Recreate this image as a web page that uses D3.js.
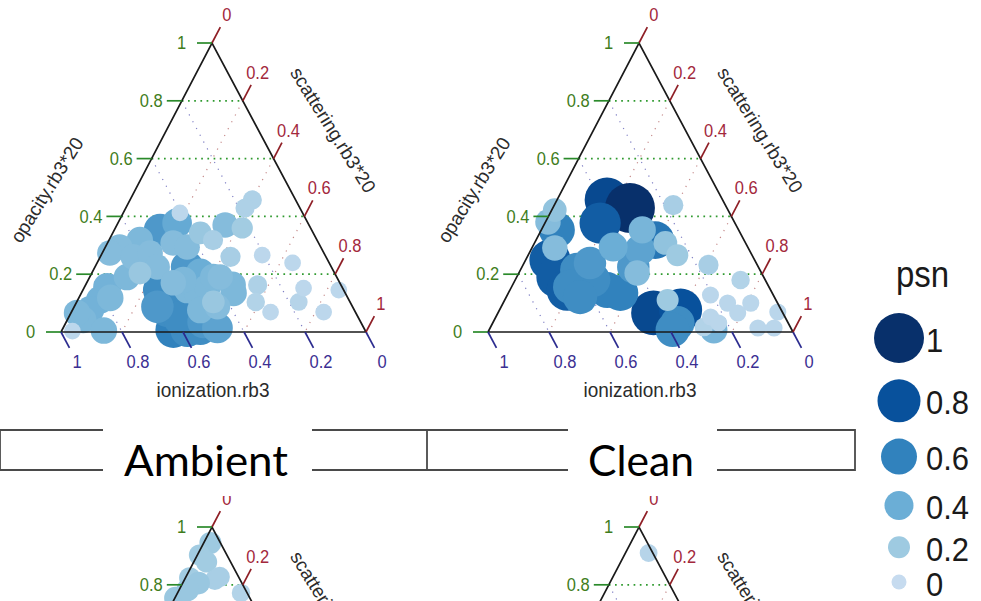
<!DOCTYPE html>
<html><head><meta charset="utf-8">
<script src="https://cdn.jsdelivr.net/npm/d3@7/dist/d3.min.js"></script>
<style>body{margin:0;background:#fff}svg{display:block}</style>
</head><body>
<svg id="chart" width="981" height="601"></svg>
<script>
// ---------- data ----------
const tickValues = [0, 0.2, 0.4, 0.6, 0.8, 1];
const tickLabels = ["0", "0.2", "0.4", "0.6", "0.8", "1"];
const gridValues = [0.2, 0.4, 0.6, 0.8];
const titleOpacity = "opacity.rb3*20";
const titleScattering = "scattering.rb3*20";
const titleIonization = "ionization.rb3";
const panelNames = ["Ambient", "Clean"];
const legendTitle = "psn";
const legendValues = [1, 0.8, 0.6, 0.4, 0.2, 0];
const legendLabels = ["1", "0.8", "0.6", "0.4", "0.2", "0"];

// Ambient (top row)
const ambientOpacity = [.007,.145,.076,.007,.014,.048,.353,.225,.087,.035,.014,.377,.204,.156,.111,.076,.163,.318,.190,.042,.066,.005,.118,.145,.135,.156,.180,.190,.135,.076,.370,.190,.294,.273,.260,.273,.308,.294,.225,.170,.087,.104,.343,.204,.360,.260,.318,.457,.429,.163,.104,.104,.266,.239,.145,.152,.069,.069,.412,.003];
const ambientScattering = [.365,.253,.311,.411,.450,.367,.150,.302,.273,.450,.506,.194,.356,.074,.073,.058,.482,.101,.122,.052,.020,.138,.103,.342,.380,.403,.312,.405,.499,.419,.355,.428,.047,.025,.108,.157,.215,.268,.204,.284,.470,.448,.287,.158,.416,.427,.341,.401,.391,.564,.587,.728,.528,.641,.839,.720,.827,.653,.186,.036];
const ambientIonization = [.628,.602,.613,.582,.536,.585,.497,.473,.640,.515,.480,.429,.440,.770,.816,.866,.355,.581,.688,.906,.914,.857,.779,.513,.485,.441,.508,.405,.366,.505,.275,.382,.659,.702,.632,.570,.477,.438,.571,.546,.443,.448,.370,.638,.224,.313,.341,.142,.180,.273,.309,.168,.206,.120,.016,.128,.104,.278,.402,.961];
const ambientPsn = [.6,.55,.55,.55,.55,.55,.5,.5,.5,.5,.45,.42,.4,.37,.37,.37,.33,.33,.33,.33,.33,.33,.33,.33,.33,.33,.33,.33,.33,.33,.3,.3,.3,.3,.3,.3,.3,.3,.3,.3,.3,.22,.22,.22,.18,.15,.15,.12,.12,.12,.1,.08,.05,.05,.05,.05,.05,.05,.05,.05];

// Clean (top row)
const cleanOpacity = [.457,.429,.066,.076,.377,.249,.190,.145,.318,.145,.135,.353,.215,.180,.156,.121,.031,.007,.225,.239,.284,.294,.353,.007,.204,.381,.291,.308,.422,.111,.266,.439,.232,.180,.017,.128,.100,.100,.052,.066,.069,.014,.014,.031];
const cleanScattering = [.164,.253,.510,.594,.181,.080,.132,.188,.391,.319,.367,.051,.186,.256,.192,.242,.606,.602,.365,.216,.358,.265,.331,.737,.388,.008,.075,.429,.010,.534,.489,.390,.608,.739,.699,.666,.736,.812,.704,.786,.916,.878,.931,.741];
const cleanIonization = [.379,.318,.424,.330,.442,.671,.678,.667,.291,.536,.498,.596,.599,.564,.652,.637,.363,.391,.410,.545,.358,.441,.316,.256,.408,.611,.634,.263,.568,.355,.245,.171,.160,.081,.284,.206,.164,.088,.244,.148,.015,.108,.055,.228];
const cleanPsn = [.85,1,.85,.8,.75,.75,.75,.75,.65,.6,.6,.6,.55,.55,.55,.55,.55,.55,.5,.5,.45,.4,.35,.35,.3,.3,.3,.25,.25,.2,.2,.15,.15,.1,.1,.06,.06,.06,.06,.06,.06,.06,.06,.06];

// second row (partly visible)
const ambient2Opacity = [.945,.903,.879,.824,.817,.827,.806,.754,.772,.782,.696,.70];
const ambient2Scattering = [.022,.007,.042,.014,.100,.111,.052,.002,.208,.028,.012,.06];
const ambient2Ionization = [.033,.090,.079,.162,.083,.062,.142,.244,.020,.190,.292,.24];
const ambient2Psn = [.2,.18,.18,.18,.15,.15,.22,.22,.1,.22,.22,.18];
const clean2Opacity = [.910];
const clean2Scattering = [.076];
const clean2Ionization = [.014];
const clean2Psn = [.08];

// ---------- scales ----------
const color = d3.scaleLinear()
  .domain([0, .2, .4, .6, .8, 1])
  .range(["#c6dbef", "#9ecae1", "#6baed6", "#3182bd", "#08519c", "#08306b"]);
const rScale = d3.scaleLinear().domain([0, 1]).range([7.5, 25]);

const W = 305, H = 289, TX = 151;
const FONT = "'Liberation Sans', Arial, sans-serif";
const VIEW_H = 601;
const svg = d3.select("#chart");
svg.append("rect").attr("width", 981).attr("height", 601).attr("fill", "#fff");

svg.append("defs").append("clipPath").attr("id", "row2")
  .append("rect").attr("x", 0).attr("y", 496).attr("width", 981).attr("height", 110);

function zip(op, sc, ion, psn) {
  return op.map((d, i) => ({op: d, sc: sc[i], ion: ion[i], psn: psn[i]}));
}

function drawPanel(root, ox, oy, data) {
  const g = root.append("g");
  const xs = d3.scaleLinear().domain([0, 1]).range([0, W]);
  const xo = d3.scaleLinear().domain([0, 1]).range([0, TX]);
  const ys = d3.scaleLinear().domain([0, 1]).range([oy, oy - H]);
  const proj = (op, sc, ion) => {
    const s = op + sc + ion;
    op /= s; sc /= s;
    return [ox + xs(sc) + xo(op), ys(op)];
  };
  const BL = proj(0, 0, 1), BR = proj(0, 1, 0), T = proj(1, 0, 0);
  const line = (a, b) => `M${a[0]},${a[1]}L${b[0]},${b[1]}`;

  // grid
  gridValues.forEach(v => {
    g.append("path").attr("d", line(proj(1 - v, v, 0), proj(0, v, 1 - v)))
      .attr("stroke", "#c58a8a").attr("stroke-width", 1.2).attr("stroke-dasharray", "1.2 6.5").attr("fill", "none");
    g.append("path").attr("d", line(proj(1 - v, 0, v), proj(0, 1 - v, v)))
      .attr("stroke", "#7f7fc4").attr("stroke-width", 1.2).attr("stroke-dasharray", "1.2 6.5").attr("fill", "none");
    g.append("path").attr("d", line(proj(v, 0, 1 - v), proj(v, 1 - v, 0)))
      .attr("stroke", "#2f9a2f").attr("stroke-width", 1.7).attr("stroke-dasharray", "1.7 4.5").attr("fill", "none");
  });

  // points
  g.append("g").selectAll("circle").data(data).join("circle")
    .attr("cx", d => proj(d.op, d.sc, d.ion)[0])
    .attr("cy", d => proj(d.op, d.sc, d.ion)[1])
    .attr("r", d => rScale(d.psn))
    .attr("fill", d => color(d.psn));

  // triangle
  g.append("path").attr("d", `M${BL}L${BR}L${T}Z`)
    .attr("fill", "none").attr("stroke", "#1a1a1a").attr("stroke-width", 1.7);

  const lenL = Math.hypot(T[0] - BL[0], T[1] - BL[1]);
  const dirL = [(T[0] - BL[0]) / lenL, (T[1] - BL[1]) / lenL];
  const lenR = Math.hypot(BR[0] - T[0], BR[1] - T[1]);
  const dirR = [(BR[0] - T[0]) / lenR, (BR[1] - T[1]) / lenR];

  const label = (x, y, txt, fill) => {
    if (y - 9 > VIEW_H) return;
    g.append("text")
      .attr("transform", `translate(${x},${y}) scale(1,1.1)`)
      .attr("text-anchor", "middle").attr("dominant-baseline", "central")
      .attr("font-family", FONT).attr("font-size", 16.5).attr("fill", fill).text(txt);
  };

  tickValues.forEach((v, i) => {
    const p = proj(v, 0, 1 - v);
    g.append("path").attr("d", line([p[0] - 15, p[1]], p)).attr("stroke", "#2a8a2a").attr("stroke-width", 1.7);
    label(p[0] - 30.5, p[1], tickLabels[i], "#3f7d1c");
    const q = proj(1 - v, v, 0);
    g.append("path").attr("d", line(q, [q[0] + dirL[0] * 18, q[1] + dirL[1] * 18])).attr("stroke", "#8f1f26").attr("stroke-width", 1.7);
    label(q[0] + dirL[0] * 32, q[1] + dirL[1] * 32, tickLabels[i], "#a3283c");
    const b = proj(0, 1 - v, v);
    g.append("path").attr("d", line(b, [b[0] + dirR[0] * 18, b[1] + dirR[1] * 18])).attr("stroke", "#2b2b8f").attr("stroke-width", 1.7);
    label(b[0] + dirR[0] * 34, b[1] + dirR[1] * 34, tickLabels[i], "#3b2f92");
  });

  // titles
  if (oy + 50 < VIEW_H)
    g.append("text").attr("transform", `translate(${ox + 152},${oy + 65}) scale(1,1.1)`)
      .attr("text-anchor", "middle").attr("font-family", FONT).attr("font-size", 19).attr("fill", "#2b2b2b").text(titleIonization);
  if (oy - 142 - 60 < VIEW_H)
    g.append("text").attr("transform", `translate(${ox - 14},${oy - 142}) rotate(-58)`)
      .attr("text-anchor", "middle").attr("dominant-baseline", "central")
      .attr("font-family", FONT).attr("font-size", 19).attr("fill", "#2b2b2b").text(titleOpacity);
  g.append("text").attr("transform", `translate(${ox + 272},${oy - 202}) rotate(58)`)
    .attr("text-anchor", "middle").attr("dominant-baseline", "central")
    .attr("font-family", FONT).attr("font-size", 19).attr("fill", "#2b2b2b").text(titleScattering);
}

drawPanel(svg, 61, 332, zip(ambientOpacity, ambientScattering, ambientIonization, ambientPsn));
drawPanel(svg, 488, 332, zip(cleanOpacity, cleanScattering, cleanIonization, cleanPsn));
const row2 = svg.append("g").attr("clip-path", "url(#row2)");
drawPanel(row2, 61, 816, zip(ambient2Opacity, ambient2Scattering, ambient2Ionization, ambient2Psn));
drawPanel(row2, 488, 816, zip(clean2Opacity, clean2Scattering, clean2Ionization, clean2Psn));

// ---------- panel labels (boxes) ----------
const boxG = svg.append("g").attr("fill", "none").attr("stroke", "#4a4a4a").attr("stroke-width", 1.8);
boxG.append("path").attr("d", "M103,430H0V470H103");
boxG.append("path").attr("d", "M312,430H568M312,470H568M427,430V470");
boxG.append("path").attr("d", "M717,430H855V470H717");
const nameX = [124, 588], nameW = [164, 106];
panelNames.forEach((n, i) => {
  svg.append("text").attr("x", nameX[i]).attr("y", 476)
    .attr("font-family", "Lato, 'Open Sans', sans-serif").attr("font-size", 43)
    .attr("textLength", nameW[i]).attr("lengthAdjust", "spacingAndGlyphs")
    .attr("fill", "#000").text(n);
});

// ---------- legend ----------
const lg = svg.append("g");
lg.append("text").attr("transform", "translate(896,287) scale(1,1.1)")
  .attr("font-family", FONT).attr("font-size", 33).attr("fill", "#1a1a1a").text(legendTitle);
let ly = 338;
legendValues.forEach((v, i) => {
  if (i > 0) ly += rScale(legendValues[i - 1]) + rScale(v) + 16.3;
  lg.append("circle").attr("cx", 899).attr("cy", ly).attr("r", rScale(v)).attr("fill", color(v));
  lg.append("text").attr("transform", `translate(926,${ly + 2}) scale(1,1.1)`)
    .attr("dominant-baseline", "central").attr("font-family", FONT).attr("font-size", 31)
    .attr("fill", "#1a1a1a").text(legendLabels[i]);
});
</script>
</body></html>
